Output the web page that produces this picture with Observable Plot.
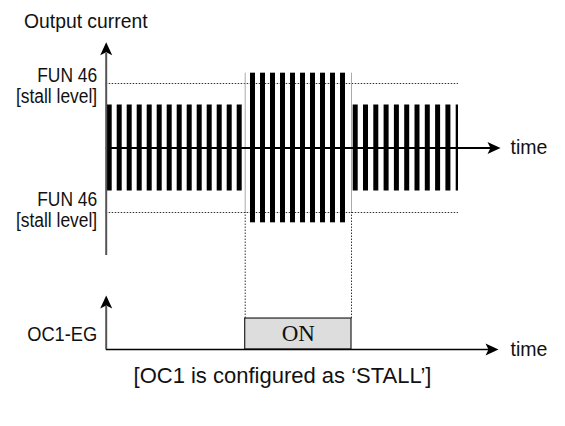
<!DOCTYPE html>
<html><head><meta charset="utf-8">
<script src="https://cdn.jsdelivr.net/npm/d3@7"></script>
<script src="https://cdn.jsdelivr.net/npm/@observablehq/plot@0.6"></script>
<style>
body{margin:0;background:#fff;width:565px;height:426px;overflow:hidden;font-family:"Liberation Sans",Arial,sans-serif;color:#111}
#title{height:36px;font-size:21px;line-height:36px;padding-left:24px;box-sizing:border-box;padding-top:3px;white-space:nowrap}
#title span{display:inline-block;transform:scaleX(0.92);transform-origin:left center}
#chart{height:330px}
#caption{height:60px;font-size:22px;line-height:20px;text-align:center;box-sizing:border-box;white-space:nowrap}
</style></head><body>
<div id="title"><span>Output current</span></div>
<div id="chart"></div>
<div id="caption">[OC1 is configured as ‘STALL’]</div>
<script>
// ---- data ----
const section1Times = [0,1,2,3,4,5,6,7,8,9,10,11,12,13];
const section2Times = [14.33,15.33,16.33,17.33,18.33,19.33,20.33,21.33,22.33,23.33];
const section3Times = [24.6,25.63,26.66,27.69,28.72,29.75,30.78,31.81,32.84,33.87,34.9];
const normalAmp = 1.0;
const stallPeakAmp = 1.74;
const stallLevel = 1.5;
const stallStart = 13.8;
const stallEnd = 24.43;
const traceEnd = 35.13;
const timeEnd = 39.33;
const oc1States = [{t0: stallStart, t1: stallEnd, label: "ON"}];
const stallLabels = ["FUN 46", "[stall level]"];
const oc1Label = "OC1-EG";
const timeLabel = "time";

// ---- layout constants ----
const AXIS_T = -0.1;
const BAR_W = 0.5;
const OC1_BASE = -4.686;
const OC1_HIGH = 0.72;
const FONT = '"Liberation Sans",Arial,sans-serif';
const SQUEEZE = {"FUN 46": 0.83, "[stall level]": 0.83, "OC1-EG": 0.87, "time": 0.93};

const bars = [
  ...section1Times.map(t => ({t, amp: normalAmp})),
  ...section2Times.map(t => ({t, amp: stallPeakAmp})),
  ...section3Times.map(t => ({t, amp: normalAmp}))
];

const arrowRight = {draw(ctx, size){ const k = Math.sqrt(size/Math.PI)/6;
  ctx.moveTo(0,0); ctx.lineTo(-13*k,-6*k); ctx.lineTo(-10*k,0); ctx.lineTo(-13*k,6*k); ctx.closePath(); }};
const arrowUp = {draw(ctx, size){ const k = Math.sqrt(size/Math.PI)/6;
  ctx.moveTo(0,0); ctx.lineTo(-6*k,13*k); ctx.lineTo(0,10*k); ctx.lineTo(6*k,13*k); ctx.closePath(); }};

const txt = {fontSize: 21, fontFamily: FONT, fill: "#111"};

const chart = Plot.plot({
  width: 565, height: 330, margin: 0,
  style: {background: "white", overflow: "visible"},
  x: {type: "linear", domain: [0, 10], range: [106.7, 206.7], axis: null},
  y: {type: "linear", domain: [0, 1], range: [111.5, 68.5], axis: null},
  marks: [
    Plot.ruleY([stallLevel, -stallLevel], {x1: AXIS_T, x2: traceEnd, stroke: "#333", strokeWidth: 1, strokeDasharray: "1.5,1.5"}),
    Plot.rect(bars, {x1: "t", x2: d => Math.min(d.t + BAR_W, traceEnd), y1: d => -d.amp, y2: d => d.amp, fill: "black"}),
    Plot.ruleX([stallStart, stallEnd], {y1: -stallLevel, y2: stallPeakAmp, stroke: "#aaa", strokeWidth: 1}),
    Plot.ruleX([stallStart, stallEnd], {y1: OC1_BASE + OC1_HIGH, y2: -stallLevel, stroke: "#333", strokeWidth: 1, strokeDasharray: "1.5,1.5"}),
    Plot.ruleY([0], {x1: AXIS_T, x2: timeEnd - 0.8, stroke: "black", strokeWidth: 2}),
    Plot.dot([{t: timeEnd, v: 0}], {x: "t", y: "v", symbol: arrowRight, r: 6, fill: "black", stroke: null}),
    Plot.ruleX([AXIS_T], {y1: -2.5, y2: 2.2, stroke: "#555", strokeWidth: 2}),
    Plot.dot([{t: AXIS_T, v: 2.46}], {x: "t", y: "v", symbol: arrowUp, r: 6, fill: "black", stroke: null}),
    Plot.rect(oc1States, {x1: "t0", x2: "t1", y1: OC1_BASE, y2: OC1_BASE + OC1_HIGH, fill: "#ddd", stroke: "#222", strokeWidth: 1.2}),
    Plot.ruleY([OC1_BASE], {x1: AXIS_T, x2: timeEnd - 1.0, stroke: "black", strokeWidth: 1.5}),
    Plot.dot([{t: timeEnd - 0.2, v: OC1_BASE}], {x: "t", y: "v", symbol: arrowRight, r: 6, fill: "black", stroke: null}),
    Plot.ruleX([AXIS_T], {y1: OC1_BASE, y2: OC1_BASE + 1.0, stroke: "#555", strokeWidth: 2}),
    Plot.dot([{t: AXIS_T, v: OC1_BASE + 1.256}], {x: "t", y: "v", symbol: arrowUp, r: 6, fill: "black", stroke: null}),
    Plot.text([stallLabels[0]], {x: AXIS_T, y: stallLevel, text: d => d, dx: -9, dy: -8, textAnchor: "end", ...txt}),
    Plot.text([stallLabels[1]], {x: AXIS_T, y: stallLevel, text: d => d, dx: -9, dy: 13, textAnchor: "end", ...txt}),
    Plot.text([stallLabels[0]], {x: AXIS_T, y: -stallLevel, text: d => d, dx: -9, dy: -13, textAnchor: "end", ...txt}),
    Plot.text([stallLabels[1]], {x: AXIS_T, y: -stallLevel, text: d => d, dx: -9, dy: 8, textAnchor: "end", ...txt}),
    Plot.text([oc1Label], {x: AXIS_T, y: OC1_BASE + OC1_HIGH / 2, text: d => d, dx: -9, textAnchor: "end", ...txt}),
    Plot.text(oc1States, {x: d => (d.t0 + d.t1) / 2, y: OC1_BASE + OC1_HIGH / 2, text: "label", fontSize: 23, fontFamily: '"Liberation Serif","Times New Roman",serif', fill: "#111"}),
    Plot.text([timeLabel], {x: timeEnd, y: 0, text: d => d, dx: 10, dy: -1, textAnchor: "start", ...txt}),
    Plot.text([timeLabel], {x: timeEnd - 0.2, y: OC1_BASE, text: d => d, dx: 12, dy: 0, textAnchor: "start", ...txt})
  ]
});
chart.querySelectorAll("text").forEach(el => {
  const s = SQUEEZE[el.textContent];
  if (s) el.setAttribute("transform", (el.getAttribute("transform") || "") + ` scale(${s},1)`);
});
document.getElementById("chart").appendChild(chart);
</script></body></html>
